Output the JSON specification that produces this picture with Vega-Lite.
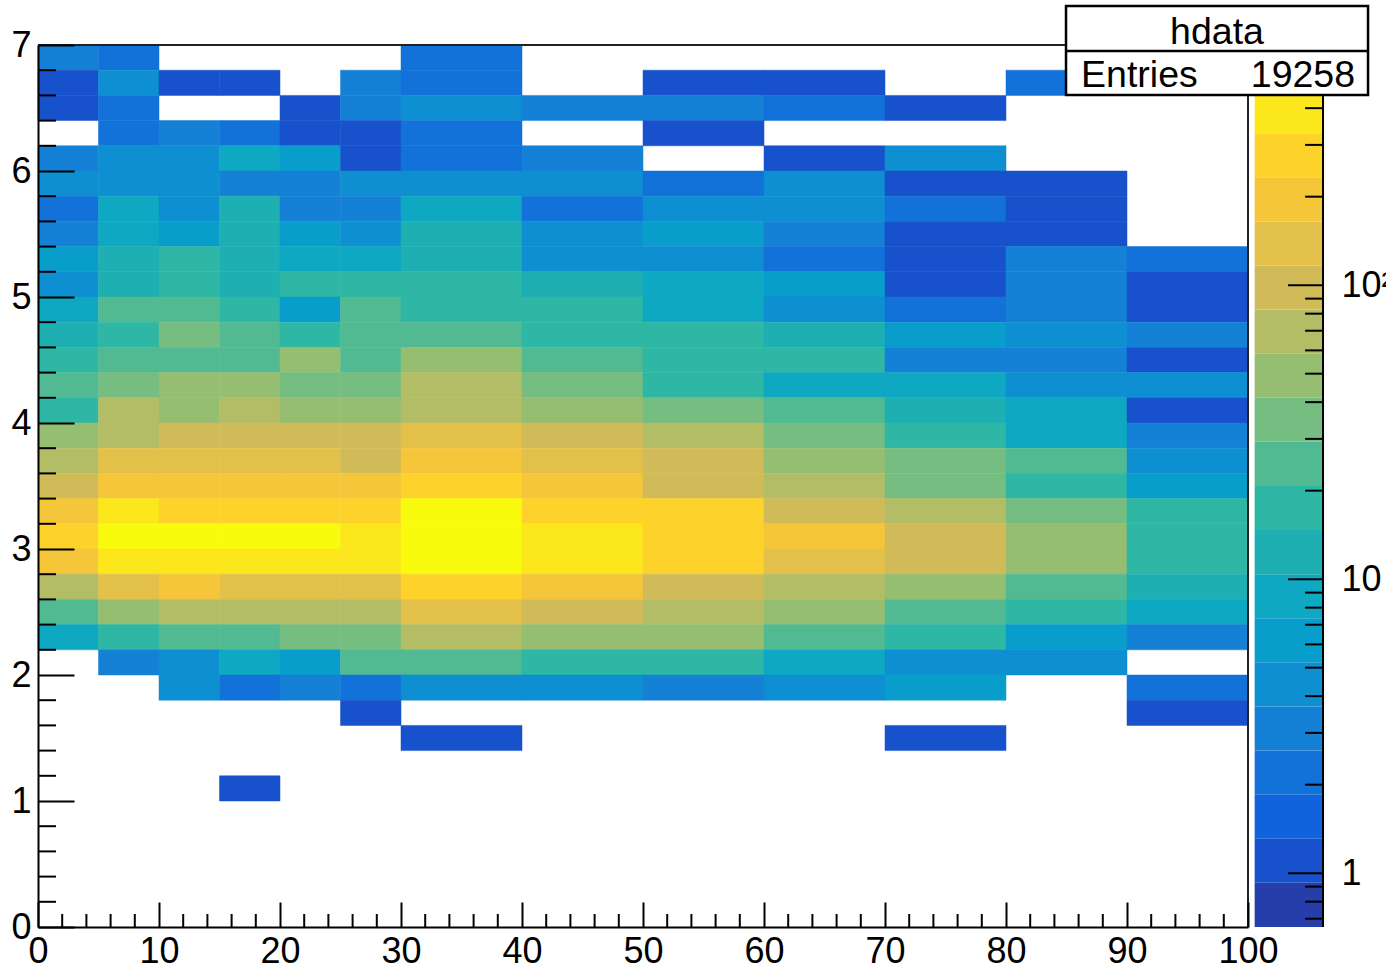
{"$schema":"https://vega.github.io/schema/vega-lite/v6.json","autosize":{"type":"none"},"padding":{"left":38,"top":45,"right":138,"bottom":42},"width":1210,"height":882,"background":"white","config":{"view":{"stroke":null},"font":"Liberation Sans"},
"datasets":{"cells":[
{"x0":0,"x1":5,"y0":6.8,"y1":7,"n":3},{"x0":5,"x1":10,"y0":6.8,"y1":7,"n":2},{"x0":30,"x1":40,"y0":6.8,"y1":7,"n":2},
{"x0":0,"x1":5,"y0":6.6,"y1":6.8,"n":1},{"x0":5,"x1":10,"y0":6.6,"y1":6.8,"n":4},{"x0":10,"x1":15,"y0":6.6,"y1":6.8,"n":1},{"x0":15,"x1":20,"y0":6.6,"y1":6.8,"n":1},{"x0":25,"x1":30,"y0":6.6,"y1":6.8,"n":3},{"x0":30,"x1":40,"y0":6.6,"y1":6.8,"n":2},{"x0":50,"x1":60,"y0":6.6,"y1":6.8,"n":1},{"x0":60,"x1":70,"y0":6.6,"y1":6.8,"n":1},{"x0":80,"x1":90,"y0":6.6,"y1":6.8,"n":2},
{"x0":0,"x1":5,"y0":6.4,"y1":6.6,"n":1},{"x0":5,"x1":10,"y0":6.4,"y1":6.6,"n":2},{"x0":20,"x1":25,"y0":6.4,"y1":6.6,"n":1},{"x0":25,"x1":30,"y0":6.4,"y1":6.6,"n":3},{"x0":30,"x1":40,"y0":6.4,"y1":6.6,"n":4},{"x0":40,"x1":50,"y0":6.4,"y1":6.6,"n":3},{"x0":50,"x1":60,"y0":6.4,"y1":6.6,"n":3},{"x0":60,"x1":70,"y0":6.4,"y1":6.6,"n":2},{"x0":70,"x1":80,"y0":6.4,"y1":6.6,"n":1},
{"x0":5,"x1":10,"y0":6.2,"y1":6.4,"n":2},{"x0":10,"x1":15,"y0":6.2,"y1":6.4,"n":3},{"x0":15,"x1":20,"y0":6.2,"y1":6.4,"n":2},{"x0":20,"x1":25,"y0":6.2,"y1":6.4,"n":1},{"x0":25,"x1":30,"y0":6.2,"y1":6.4,"n":1},{"x0":30,"x1":40,"y0":6.2,"y1":6.4,"n":2},{"x0":50,"x1":60,"y0":6.2,"y1":6.4,"n":1},
{"x0":0,"x1":5,"y0":6,"y1":6.2,"n":3},{"x0":5,"x1":10,"y0":6,"y1":6.2,"n":4},{"x0":10,"x1":15,"y0":6,"y1":6.2,"n":4},{"x0":15,"x1":20,"y0":6,"y1":6.2,"n":9},{"x0":20,"x1":25,"y0":6,"y1":6.2,"n":6},{"x0":25,"x1":30,"y0":6,"y1":6.2,"n":1},{"x0":30,"x1":40,"y0":6,"y1":6.2,"n":2},{"x0":40,"x1":50,"y0":6,"y1":6.2,"n":3},{"x0":60,"x1":70,"y0":6,"y1":6.2,"n":1},{"x0":70,"x1":80,"y0":6,"y1":6.2,"n":4},
{"x0":0,"x1":5,"y0":5.8,"y1":6,"n":4},{"x0":5,"x1":10,"y0":5.8,"y1":6,"n":4},{"x0":10,"x1":15,"y0":5.8,"y1":6,"n":4},{"x0":15,"x1":20,"y0":5.8,"y1":6,"n":3},{"x0":20,"x1":25,"y0":5.8,"y1":6,"n":3},{"x0":25,"x1":30,"y0":5.8,"y1":6,"n":4},{"x0":30,"x1":40,"y0":5.8,"y1":6,"n":4},{"x0":40,"x1":50,"y0":5.8,"y1":6,"n":4},{"x0":50,"x1":60,"y0":5.8,"y1":6,"n":2},{"x0":60,"x1":70,"y0":5.8,"y1":6,"n":4},{"x0":70,"x1":80,"y0":5.8,"y1":6,"n":1},{"x0":80,"x1":90,"y0":5.8,"y1":6,"n":1},
{"x0":0,"x1":5,"y0":5.6,"y1":5.8,"n":2},{"x0":5,"x1":10,"y0":5.6,"y1":5.8,"n":9},{"x0":10,"x1":15,"y0":5.6,"y1":5.8,"n":4},{"x0":15,"x1":20,"y0":5.6,"y1":5.8,"n":12},{"x0":20,"x1":25,"y0":5.6,"y1":5.8,"n":3},{"x0":25,"x1":30,"y0":5.6,"y1":5.8,"n":3},{"x0":30,"x1":40,"y0":5.6,"y1":5.8,"n":9},{"x0":40,"x1":50,"y0":5.6,"y1":5.8,"n":2},{"x0":50,"x1":60,"y0":5.6,"y1":5.8,"n":4},{"x0":60,"x1":70,"y0":5.6,"y1":5.8,"n":4},{"x0":70,"x1":80,"y0":5.6,"y1":5.8,"n":2},{"x0":80,"x1":90,"y0":5.6,"y1":5.8,"n":1},
{"x0":0,"x1":5,"y0":5.4,"y1":5.6,"n":3},{"x0":5,"x1":10,"y0":5.4,"y1":5.6,"n":9},{"x0":10,"x1":15,"y0":5.4,"y1":5.6,"n":6},{"x0":15,"x1":20,"y0":5.4,"y1":5.6,"n":12},{"x0":20,"x1":25,"y0":5.4,"y1":5.6,"n":6},{"x0":25,"x1":30,"y0":5.4,"y1":5.6,"n":4},{"x0":30,"x1":40,"y0":5.4,"y1":5.6,"n":12},{"x0":40,"x1":50,"y0":5.4,"y1":5.6,"n":4},{"x0":50,"x1":60,"y0":5.4,"y1":5.6,"n":6},{"x0":60,"x1":70,"y0":5.4,"y1":5.6,"n":3},{"x0":70,"x1":80,"y0":5.4,"y1":5.6,"n":1},{"x0":80,"x1":90,"y0":5.4,"y1":5.6,"n":1},
{"x0":0,"x1":5,"y0":5.2,"y1":5.4,"n":6},{"x0":5,"x1":10,"y0":5.2,"y1":5.4,"n":12},{"x0":10,"x1":15,"y0":5.2,"y1":5.4,"n":17},{"x0":15,"x1":20,"y0":5.2,"y1":5.4,"n":12},{"x0":20,"x1":25,"y0":5.2,"y1":5.4,"n":9},{"x0":25,"x1":30,"y0":5.2,"y1":5.4,"n":9},{"x0":30,"x1":40,"y0":5.2,"y1":5.4,"n":12},{"x0":40,"x1":50,"y0":5.2,"y1":5.4,"n":4},{"x0":50,"x1":60,"y0":5.2,"y1":5.4,"n":4},{"x0":60,"x1":70,"y0":5.2,"y1":5.4,"n":2},{"x0":70,"x1":80,"y0":5.2,"y1":5.4,"n":1},{"x0":80,"x1":90,"y0":5.2,"y1":5.4,"n":3},{"x0":90,"x1":100,"y0":5.2,"y1":5.4,"n":2},
{"x0":0,"x1":5,"y0":5,"y1":5.2,"n":4},{"x0":5,"x1":10,"y0":5,"y1":5.2,"n":12},{"x0":10,"x1":15,"y0":5,"y1":5.2,"n":17},{"x0":15,"x1":20,"y0":5,"y1":5.2,"n":12},{"x0":20,"x1":25,"y0":5,"y1":5.2,"n":17},{"x0":25,"x1":30,"y0":5,"y1":5.2,"n":17},{"x0":30,"x1":40,"y0":5,"y1":5.2,"n":17},{"x0":40,"x1":50,"y0":5,"y1":5.2,"n":12},{"x0":50,"x1":60,"y0":5,"y1":5.2,"n":9},{"x0":60,"x1":70,"y0":5,"y1":5.2,"n":6},{"x0":70,"x1":80,"y0":5,"y1":5.2,"n":1},{"x0":80,"x1":90,"y0":5,"y1":5.2,"n":3},{"x0":90,"x1":100,"y0":5,"y1":5.2,"n":1},
{"x0":0,"x1":5,"y0":4.8,"y1":5,"n":9},{"x0":5,"x1":10,"y0":4.8,"y1":5,"n":25},{"x0":10,"x1":15,"y0":4.8,"y1":5,"n":25},{"x0":15,"x1":20,"y0":4.8,"y1":5,"n":17},{"x0":20,"x1":25,"y0":4.8,"y1":5,"n":6},{"x0":25,"x1":30,"y0":4.8,"y1":5,"n":25},{"x0":30,"x1":40,"y0":4.8,"y1":5,"n":17},{"x0":40,"x1":50,"y0":4.8,"y1":5,"n":17},{"x0":50,"x1":60,"y0":4.8,"y1":5,"n":9},{"x0":60,"x1":70,"y0":4.8,"y1":5,"n":4},{"x0":70,"x1":80,"y0":4.8,"y1":5,"n":2},{"x0":80,"x1":90,"y0":4.8,"y1":5,"n":3},{"x0":90,"x1":100,"y0":4.8,"y1":5,"n":1},
{"x0":0,"x1":5,"y0":4.6,"y1":4.8,"n":12},{"x0":5,"x1":10,"y0":4.6,"y1":4.8,"n":17},{"x0":10,"x1":15,"y0":4.6,"y1":4.8,"n":35},{"x0":15,"x1":20,"y0":4.6,"y1":4.8,"n":25},{"x0":20,"x1":25,"y0":4.6,"y1":4.8,"n":17},{"x0":25,"x1":30,"y0":4.6,"y1":4.8,"n":25},{"x0":30,"x1":40,"y0":4.6,"y1":4.8,"n":25},{"x0":40,"x1":50,"y0":4.6,"y1":4.8,"n":17},{"x0":50,"x1":60,"y0":4.6,"y1":4.8,"n":17},{"x0":60,"x1":70,"y0":4.6,"y1":4.8,"n":12},{"x0":70,"x1":80,"y0":4.6,"y1":4.8,"n":6},{"x0":80,"x1":90,"y0":4.6,"y1":4.8,"n":4},{"x0":90,"x1":100,"y0":4.6,"y1":4.8,"n":3},
{"x0":0,"x1":5,"y0":4.4,"y1":4.6,"n":17},{"x0":5,"x1":10,"y0":4.4,"y1":4.6,"n":25},{"x0":10,"x1":15,"y0":4.4,"y1":4.6,"n":25},{"x0":15,"x1":20,"y0":4.4,"y1":4.6,"n":25},{"x0":20,"x1":25,"y0":4.4,"y1":4.6,"n":49},{"x0":25,"x1":30,"y0":4.4,"y1":4.6,"n":25},{"x0":30,"x1":40,"y0":4.4,"y1":4.6,"n":49},{"x0":40,"x1":50,"y0":4.4,"y1":4.6,"n":25},{"x0":50,"x1":60,"y0":4.4,"y1":4.6,"n":17},{"x0":60,"x1":70,"y0":4.4,"y1":4.6,"n":17},{"x0":70,"x1":80,"y0":4.4,"y1":4.6,"n":3},{"x0":80,"x1":90,"y0":4.4,"y1":4.6,"n":3},{"x0":90,"x1":100,"y0":4.4,"y1":4.6,"n":1},
{"x0":0,"x1":5,"y0":4.2,"y1":4.4,"n":25},{"x0":5,"x1":10,"y0":4.2,"y1":4.4,"n":35},{"x0":10,"x1":15,"y0":4.2,"y1":4.4,"n":49},{"x0":15,"x1":20,"y0":4.2,"y1":4.4,"n":49},{"x0":20,"x1":25,"y0":4.2,"y1":4.4,"n":35},{"x0":25,"x1":30,"y0":4.2,"y1":4.4,"n":35},{"x0":30,"x1":40,"y0":4.2,"y1":4.4,"n":70},{"x0":40,"x1":50,"y0":4.2,"y1":4.4,"n":35},{"x0":50,"x1":60,"y0":4.2,"y1":4.4,"n":17},{"x0":60,"x1":70,"y0":4.2,"y1":4.4,"n":9},{"x0":70,"x1":80,"y0":4.2,"y1":4.4,"n":9},{"x0":80,"x1":90,"y0":4.2,"y1":4.4,"n":4},{"x0":90,"x1":100,"y0":4.2,"y1":4.4,"n":4},
{"x0":0,"x1":5,"y0":4,"y1":4.2,"n":17},{"x0":5,"x1":10,"y0":4,"y1":4.2,"n":70},{"x0":10,"x1":15,"y0":4,"y1":4.2,"n":49},{"x0":15,"x1":20,"y0":4,"y1":4.2,"n":70},{"x0":20,"x1":25,"y0":4,"y1":4.2,"n":49},{"x0":25,"x1":30,"y0":4,"y1":4.2,"n":49},{"x0":30,"x1":40,"y0":4,"y1":4.2,"n":70},{"x0":40,"x1":50,"y0":4,"y1":4.2,"n":49},{"x0":50,"x1":60,"y0":4,"y1":4.2,"n":35},{"x0":60,"x1":70,"y0":4,"y1":4.2,"n":25},{"x0":70,"x1":80,"y0":4,"y1":4.2,"n":12},{"x0":80,"x1":90,"y0":4,"y1":4.2,"n":9},{"x0":90,"x1":100,"y0":4,"y1":4.2,"n":1},
{"x0":0,"x1":5,"y0":3.8,"y1":4,"n":49},{"x0":5,"x1":10,"y0":3.8,"y1":4,"n":70},{"x0":10,"x1":15,"y0":3.8,"y1":4,"n":98},{"x0":15,"x1":20,"y0":3.8,"y1":4,"n":98},{"x0":20,"x1":25,"y0":3.8,"y1":4,"n":98},{"x0":25,"x1":30,"y0":3.8,"y1":4,"n":98},{"x0":30,"x1":40,"y0":3.8,"y1":4,"n":138},{"x0":40,"x1":50,"y0":3.8,"y1":4,"n":98},{"x0":50,"x1":60,"y0":3.8,"y1":4,"n":70},{"x0":60,"x1":70,"y0":3.8,"y1":4,"n":35},{"x0":70,"x1":80,"y0":3.8,"y1":4,"n":17},{"x0":80,"x1":90,"y0":3.8,"y1":4,"n":9},{"x0":90,"x1":100,"y0":3.8,"y1":4,"n":3},
{"x0":0,"x1":5,"y0":3.6,"y1":3.8,"n":70},{"x0":5,"x1":10,"y0":3.6,"y1":3.8,"n":138},{"x0":10,"x1":15,"y0":3.6,"y1":3.8,"n":138},{"x0":15,"x1":20,"y0":3.6,"y1":3.8,"n":138},{"x0":20,"x1":25,"y0":3.6,"y1":3.8,"n":138},{"x0":25,"x1":30,"y0":3.6,"y1":3.8,"n":98},{"x0":30,"x1":40,"y0":3.6,"y1":3.8,"n":195},{"x0":40,"x1":50,"y0":3.6,"y1":3.8,"n":138},{"x0":50,"x1":60,"y0":3.6,"y1":3.8,"n":98},{"x0":60,"x1":70,"y0":3.6,"y1":3.8,"n":49},{"x0":70,"x1":80,"y0":3.6,"y1":3.8,"n":35},{"x0":80,"x1":90,"y0":3.6,"y1":3.8,"n":25},{"x0":90,"x1":100,"y0":3.6,"y1":3.8,"n":4},
{"x0":0,"x1":5,"y0":3.4,"y1":3.6,"n":98},{"x0":5,"x1":10,"y0":3.4,"y1":3.6,"n":195},{"x0":10,"x1":15,"y0":3.4,"y1":3.6,"n":195},{"x0":15,"x1":20,"y0":3.4,"y1":3.6,"n":195},{"x0":20,"x1":25,"y0":3.4,"y1":3.6,"n":195},{"x0":25,"x1":30,"y0":3.4,"y1":3.6,"n":195},{"x0":30,"x1":40,"y0":3.4,"y1":3.6,"n":276},{"x0":40,"x1":50,"y0":3.4,"y1":3.6,"n":195},{"x0":50,"x1":60,"y0":3.4,"y1":3.6,"n":98},{"x0":60,"x1":70,"y0":3.4,"y1":3.6,"n":70},{"x0":70,"x1":80,"y0":3.4,"y1":3.6,"n":35},{"x0":80,"x1":90,"y0":3.4,"y1":3.6,"n":17},{"x0":90,"x1":100,"y0":3.4,"y1":3.6,"n":6},
{"x0":0,"x1":5,"y0":3.2,"y1":3.4,"n":195},{"x0":5,"x1":10,"y0":3.2,"y1":3.4,"n":390},{"x0":10,"x1":15,"y0":3.2,"y1":3.4,"n":276},{"x0":15,"x1":20,"y0":3.2,"y1":3.4,"n":276},{"x0":20,"x1":25,"y0":3.2,"y1":3.4,"n":276},{"x0":25,"x1":30,"y0":3.2,"y1":3.4,"n":276},{"x0":30,"x1":40,"y0":3.2,"y1":3.4,"n":500},{"x0":40,"x1":50,"y0":3.2,"y1":3.4,"n":276},{"x0":50,"x1":60,"y0":3.2,"y1":3.4,"n":276},{"x0":60,"x1":70,"y0":3.2,"y1":3.4,"n":98},{"x0":70,"x1":80,"y0":3.2,"y1":3.4,"n":70},{"x0":80,"x1":90,"y0":3.2,"y1":3.4,"n":35},{"x0":90,"x1":100,"y0":3.2,"y1":3.4,"n":17},
{"x0":0,"x1":5,"y0":3,"y1":3.2,"n":276},{"x0":5,"x1":10,"y0":3,"y1":3.2,"n":500},{"x0":10,"x1":15,"y0":3,"y1":3.2,"n":500},{"x0":15,"x1":20,"y0":3,"y1":3.2,"n":500},{"x0":20,"x1":25,"y0":3,"y1":3.2,"n":500},{"x0":25,"x1":30,"y0":3,"y1":3.2,"n":390},{"x0":30,"x1":40,"y0":3,"y1":3.2,"n":500},{"x0":40,"x1":50,"y0":3,"y1":3.2,"n":390},{"x0":50,"x1":60,"y0":3,"y1":3.2,"n":276},{"x0":60,"x1":70,"y0":3,"y1":3.2,"n":195},{"x0":70,"x1":80,"y0":3,"y1":3.2,"n":98},{"x0":80,"x1":90,"y0":3,"y1":3.2,"n":49},{"x0":90,"x1":100,"y0":3,"y1":3.2,"n":17},
{"x0":0,"x1":5,"y0":2.8,"y1":3,"n":195},{"x0":5,"x1":10,"y0":2.8,"y1":3,"n":390},{"x0":10,"x1":15,"y0":2.8,"y1":3,"n":390},{"x0":15,"x1":20,"y0":2.8,"y1":3,"n":390},{"x0":20,"x1":25,"y0":2.8,"y1":3,"n":390},{"x0":25,"x1":30,"y0":2.8,"y1":3,"n":390},{"x0":30,"x1":40,"y0":2.8,"y1":3,"n":500},{"x0":40,"x1":50,"y0":2.8,"y1":3,"n":390},{"x0":50,"x1":60,"y0":2.8,"y1":3,"n":276},{"x0":60,"x1":70,"y0":2.8,"y1":3,"n":138},{"x0":70,"x1":80,"y0":2.8,"y1":3,"n":98},{"x0":80,"x1":90,"y0":2.8,"y1":3,"n":49},{"x0":90,"x1":100,"y0":2.8,"y1":3,"n":17},
{"x0":0,"x1":5,"y0":2.6,"y1":2.8,"n":70},{"x0":5,"x1":10,"y0":2.6,"y1":2.8,"n":138},{"x0":10,"x1":15,"y0":2.6,"y1":2.8,"n":195},{"x0":15,"x1":20,"y0":2.6,"y1":2.8,"n":138},{"x0":20,"x1":25,"y0":2.6,"y1":2.8,"n":138},{"x0":25,"x1":30,"y0":2.6,"y1":2.8,"n":138},{"x0":30,"x1":40,"y0":2.6,"y1":2.8,"n":276},{"x0":40,"x1":50,"y0":2.6,"y1":2.8,"n":195},{"x0":50,"x1":60,"y0":2.6,"y1":2.8,"n":98},{"x0":60,"x1":70,"y0":2.6,"y1":2.8,"n":70},{"x0":70,"x1":80,"y0":2.6,"y1":2.8,"n":49},{"x0":80,"x1":90,"y0":2.6,"y1":2.8,"n":25},{"x0":90,"x1":100,"y0":2.6,"y1":2.8,"n":12},
{"x0":0,"x1":5,"y0":2.4,"y1":2.6,"n":25},{"x0":5,"x1":10,"y0":2.4,"y1":2.6,"n":49},{"x0":10,"x1":15,"y0":2.4,"y1":2.6,"n":70},{"x0":15,"x1":20,"y0":2.4,"y1":2.6,"n":70},{"x0":20,"x1":25,"y0":2.4,"y1":2.6,"n":70},{"x0":25,"x1":30,"y0":2.4,"y1":2.6,"n":70},{"x0":30,"x1":40,"y0":2.4,"y1":2.6,"n":138},{"x0":40,"x1":50,"y0":2.4,"y1":2.6,"n":98},{"x0":50,"x1":60,"y0":2.4,"y1":2.6,"n":70},{"x0":60,"x1":70,"y0":2.4,"y1":2.6,"n":49},{"x0":70,"x1":80,"y0":2.4,"y1":2.6,"n":25},{"x0":80,"x1":90,"y0":2.4,"y1":2.6,"n":17},{"x0":90,"x1":100,"y0":2.4,"y1":2.6,"n":9},
{"x0":0,"x1":5,"y0":2.2,"y1":2.4,"n":9},{"x0":5,"x1":10,"y0":2.2,"y1":2.4,"n":17},{"x0":10,"x1":15,"y0":2.2,"y1":2.4,"n":25},{"x0":15,"x1":20,"y0":2.2,"y1":2.4,"n":25},{"x0":20,"x1":25,"y0":2.2,"y1":2.4,"n":35},{"x0":25,"x1":30,"y0":2.2,"y1":2.4,"n":35},{"x0":30,"x1":40,"y0":2.2,"y1":2.4,"n":70},{"x0":40,"x1":50,"y0":2.2,"y1":2.4,"n":49},{"x0":50,"x1":60,"y0":2.2,"y1":2.4,"n":49},{"x0":60,"x1":70,"y0":2.2,"y1":2.4,"n":25},{"x0":70,"x1":80,"y0":2.2,"y1":2.4,"n":17},{"x0":80,"x1":90,"y0":2.2,"y1":2.4,"n":6},{"x0":90,"x1":100,"y0":2.2,"y1":2.4,"n":3},
{"x0":5,"x1":10,"y0":2,"y1":2.2,"n":3},{"x0":10,"x1":15,"y0":2,"y1":2.2,"n":4},{"x0":15,"x1":20,"y0":2,"y1":2.2,"n":9},{"x0":20,"x1":25,"y0":2,"y1":2.2,"n":6},{"x0":25,"x1":30,"y0":2,"y1":2.2,"n":25},{"x0":30,"x1":40,"y0":2,"y1":2.2,"n":25},{"x0":40,"x1":50,"y0":2,"y1":2.2,"n":17},{"x0":50,"x1":60,"y0":2,"y1":2.2,"n":17},{"x0":60,"x1":70,"y0":2,"y1":2.2,"n":9},{"x0":70,"x1":80,"y0":2,"y1":2.2,"n":4},{"x0":80,"x1":90,"y0":2,"y1":2.2,"n":4},
{"x0":10,"x1":15,"y0":1.8,"y1":2,"n":4},{"x0":15,"x1":20,"y0":1.8,"y1":2,"n":2},{"x0":20,"x1":25,"y0":1.8,"y1":2,"n":3},{"x0":25,"x1":30,"y0":1.8,"y1":2,"n":2},{"x0":30,"x1":40,"y0":1.8,"y1":2,"n":4},{"x0":40,"x1":50,"y0":1.8,"y1":2,"n":4},{"x0":50,"x1":60,"y0":1.8,"y1":2,"n":3},{"x0":60,"x1":70,"y0":1.8,"y1":2,"n":4},{"x0":70,"x1":80,"y0":1.8,"y1":2,"n":6},{"x0":90,"x1":100,"y0":1.8,"y1":2,"n":2},
{"x0":25,"x1":30,"y0":1.6,"y1":1.8,"n":1},{"x0":90,"x1":100,"y0":1.6,"y1":1.8,"n":1},
{"x0":30,"x1":40,"y0":1.4,"y1":1.6,"n":1},{"x0":70,"x1":80,"y0":1.4,"y1":1.6,"n":1},
{"x0":15,"x1":20,"y0":1,"y1":1.2,"n":1}
],
"bands":[{"lo":0.656,"hi":0.927,"n":0.8},{"lo":0.927,"hi":1.309,"n":1},{"lo":1.309,"hi":1.849,"n":1.5},{"lo":1.849,"hi":2.612,"n":2},{"lo":2.612,"hi":3.69,"n":3},{"lo":3.69,"hi":5.212,"n":4},{"lo":5.212,"hi":7.362,"n":6},{"lo":7.362,"hi":10.4,"n":9},{"lo":10.4,"hi":14.69,"n":12},{"lo":14.69,"hi":20.75,"n":17},{"lo":20.75,"hi":29.31,"n":25},{"lo":29.31,"hi":41.4,"n":35},{"lo":41.4,"hi":58.48,"n":49},{"lo":58.48,"hi":82.6,"n":70},{"lo":82.6,"hi":116.7,"n":98},{"lo":116.7,"hi":164.8,"n":138},{"lo":164.8,"hi":232.8,"n":195},{"lo":232.8,"hi":328.9,"n":276},{"lo":328.9,"hi":464.5,"n":390},{"lo":464.5,"hi":656,"n":500}],
"one":[{"k":1}]},
"encoding":{},
"layer":[
{"layer":[
{"data":{"name":"cells"},"mark":{"type":"rect","strokeWidth":0.5},"encoding":{
"x":{"field":"x0","type":"quantitative","scale":{"domain":[0,100],"nice":false,"zero":false},"axis":{"values":[0,10,20,30,40,50,60,70,80,90,100],"title":null,"grid":false,"tickSize":-25,"tickWidth":2,"tickColor":"#000","domainColor":"#000","domainWidth":2,"labelFontSize":36,"labelColor":"#000","labelFont":"Liberation Sans","labelPadding":32,"labelFlush":false,"labelOverlap":false,"format":"d","zindex":1}},
"x2":{"field":"x1"},
"y":{"field":"y0","type":"quantitative","scale":{"domain":[0,7],"nice":false,"zero":false},"axis":{"values":[0,1,2,3,4,5,6,7],"title":null,"grid":false,"tickSize":-36,"tickWidth":2,"tickColor":"#000","domainColor":"#000","domainWidth":2,"labelFontSize":36,"labelColor":"#000","labelFont":"Liberation Sans","labelPadding":43,"labelOverlap":false,"format":"d","zindex":1}},
"y2":{"field":"y1"},
"color":{"field":"n","type":"quantitative","legend":null,"scale":{"type":"threshold","domain":[0.927,1.309,1.849,2.612,3.69,5.212,7.362,10.4,14.69,20.75,29.31,41.4,58.48,82.6,116.7,164.8,232.8,328.9,464.5],"range":["#263EAA","#1752CC","#1063DC","#1272D9","#1481D6","#0E8FD1","#099DCC","#0EA8C2","#1EAFB3","#2EB7A4","#52BA92","#75BD80","#96BE71","#B3BD65","#D1BB59","#E3C04A","#F5C63A","#FDD32B","#FBE71C","#F9FB0E"]}},
"stroke":{"field":"n","type":"quantitative","legend":null,"scale":{"type":"threshold","domain":[0.927,1.309,1.849,2.612,3.69,5.212,7.362,10.4,14.69,20.75,29.31,41.4,58.48,82.6,116.7,164.8,232.8,328.9,464.5],"range":["#263EAA","#1752CC","#1063DC","#1272D9","#1481D6","#0E8FD1","#099DCC","#0EA8C2","#1EAFB3","#2EB7A4","#52BA92","#75BD80","#96BE71","#B3BD65","#D1BB59","#E3C04A","#F5C63A","#FDD32B","#FBE71C","#F9FB0E"]}}}},
{"data":{"values":[{"v":2},{"v":4},{"v":6},{"v":8},{"v":12},{"v":14},{"v":16},{"v":18},{"v":22},{"v":24},{"v":26},{"v":28},{"v":32},{"v":34},{"v":36},{"v":38},{"v":42},{"v":44},{"v":46},{"v":48},{"v":52},{"v":54},{"v":56},{"v":58},{"v":62},{"v":64},{"v":66},{"v":68},{"v":72},{"v":74},{"v":76},{"v":78},{"v":82},{"v":84},{"v":86},{"v":88},{"v":92},{"v":94},{"v":96},{"v":98}]},"mark":{"type":"rule","color":"#000","strokeWidth":2},"encoding":{"x":{"field":"v","type":"quantitative"},"y":{"datum":0,"type":"quantitative"},"y2":{"datum":0.103}}},
{"data":{"values":[{"v":0.2},{"v":0.4},{"v":0.6},{"v":0.8},{"v":1.2},{"v":1.4},{"v":1.6},{"v":1.8},{"v":2.2},{"v":2.4},{"v":2.6},{"v":2.8},{"v":3.2},{"v":3.4},{"v":3.6},{"v":3.8},{"v":4.2},{"v":4.4},{"v":4.6},{"v":4.8},{"v":5.2},{"v":5.4},{"v":5.6},{"v":5.8},{"v":6.2},{"v":6.4},{"v":6.6},{"v":6.8}]},"mark":{"type":"rule","color":"#000","strokeWidth":2},"encoding":{"y":{"field":"v","type":"quantitative"},"x":{"datum":0,"type":"quantitative"},"x2":{"datum":1.49}}},
{"data":{"name":"one"},"mark":{"type":"rule","color":"#222","strokeWidth":2},"encoding":{"y":{"datum":7,"type":"quantitative"},"x":{"datum":0,"type":"quantitative"},"x2":{"datum":100}}},
{"data":{"name":"one"},"mark":{"type":"rule","color":"#222","strokeWidth":2},"encoding":{"x":{"datum":100,"type":"quantitative"},"y":{"datum":0,"type":"quantitative"},"y2":{"datum":7}}}
]},
{"layer":[
{"data":{"name":"bands"},"mark":{"type":"rect","strokeWidth":0},"encoding":{
"x":{"datum":100.55,"type":"quantitative"},"x2":{"datum":106.2},
"y":{"field":"lo","type":"quantitative","scale":{"type":"log","domain":[0.656,656],"nice":false},"axis":{"orient":"right","offset":75,"values":[1,10,100],"title":null,"grid":false,"ticks":false,"domain":false,"labelFontSize":36,"labelColor":"#000","labelFont":"Liberation Sans","labelPadding":18,"labelOverlap":false,"labelExpr":"datum.value==100?'10²':datum.value==10?'10':'1'"}},
"y2":{"field":"hi"},
"color":{"field":"n","type":"quantitative","legend":null,"scale":{"type":"threshold","domain":[0.927,1.309,1.849,2.612,3.69,5.212,7.362,10.4,14.69,20.75,29.31,41.4,58.48,82.6,116.7,164.8,232.8,328.9,464.5],"range":["#263EAA","#1752CC","#1063DC","#1272D9","#1481D6","#0E8FD1","#099DCC","#0EA8C2","#1EAFB3","#2EB7A4","#52BA92","#75BD80","#96BE71","#B3BD65","#D1BB59","#E3C04A","#F5C63A","#FDD32B","#FBE71C","#F9FB0E"]}}}},
{"data":{"values":[{"v":0.7},{"v":0.8},{"v":0.9},{"v":2},{"v":3},{"v":4},{"v":5},{"v":6},{"v":7},{"v":8},{"v":9},{"v":20},{"v":30},{"v":40},{"v":50},{"v":60},{"v":70},{"v":80},{"v":90},{"v":200},{"v":300},{"v":400},{"v":500},{"v":600}]},"mark":{"type":"rule","color":"#000","strokeWidth":2},"encoding":{"y":{"field":"v","type":"quantitative"},"x":{"datum":104.72,"type":"quantitative"},"x2":{"datum":106.2}}},
{"data":{"values":[{"v":1},{"v":10},{"v":100}]},"mark":{"type":"rule","color":"#000","strokeWidth":2},"encoding":{"y":{"field":"v","type":"quantitative"},"x":{"datum":103.3,"type":"quantitative"},"x2":{"datum":106.2}}},
{"data":{"name":"one"},"mark":{"type":"rule","color":"#000","strokeWidth":2},"encoding":{"x":{"datum":106.2,"type":"quantitative"},"y":{"datum":0.656,"type":"quantitative"},"y2":{"datum":656}}}
]},
{"layer":[
{"data":{"name":"one"},"mark":{"type":"rect","fill":"white","stroke":"#000","strokeWidth":2.5},"encoding":{"x":{"datum":84.96,"type":"quantitative"},"x2":{"datum":109.92},"y":{"datum":6.603,"type":"quantitative","scale":{"domain":[0,7],"nice":false,"zero":false},"axis":null},"y2":{"datum":7.31}}},
{"data":{"name":"one"},"mark":{"type":"rule","color":"#000","strokeWidth":2.5},"encoding":{"x":{"datum":84.96,"type":"quantitative"},"x2":{"datum":109.92},"y":{"datum":6.952,"type":"quantitative","axis":null}}},
{"data":{"name":"one"},"mark":{"type":"text","text":"hdata","fontSize":37.5,"font":"Liberation Sans","align":"center","baseline":"alphabetic","color":"#000"},"encoding":{"x":{"datum":97.44,"type":"quantitative"},"y":{"datum":7.008,"type":"quantitative","axis":null}}},
{"data":{"name":"one"},"mark":{"type":"text","text":"Entries","fontSize":37.5,"font":"Liberation Sans","align":"left","baseline":"alphabetic","color":"#000"},"encoding":{"x":{"datum":86.2,"type":"quantitative"},"y":{"datum":6.667,"type":"quantitative","axis":null}}},
{"data":{"name":"one"},"mark":{"type":"text","text":"19258","fontSize":37.5,"font":"Liberation Sans","align":"right","baseline":"alphabetic","color":"#000"},"encoding":{"x":{"datum":108.85,"type":"quantitative"},"y":{"datum":6.667,"type":"quantitative","axis":null}}}
]}
],
"resolve":{"scale":{"y":"independent"},"axis":{"y":"independent"}}}
